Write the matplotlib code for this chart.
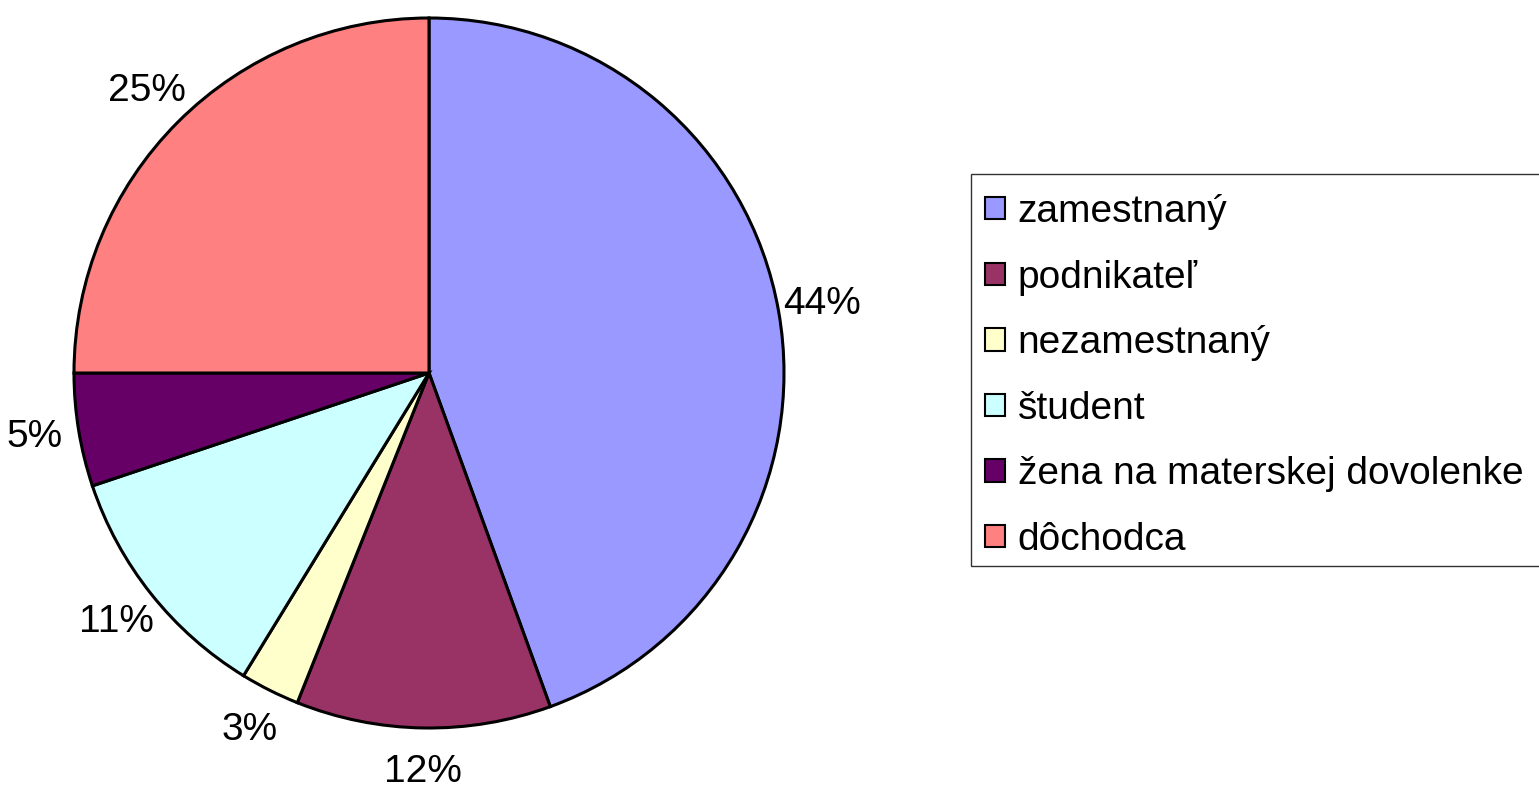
import matplotlib
matplotlib.use("Agg")
import matplotlib.pyplot as plt
from matplotlib.patches import Rectangle, Patch

categories = ["zamestnaný", "podnikateľ", "nezamestnaný", "študent",
              "žena na materskej dovolenke", "dôchodca"]
values = [44.45, 11.6, 2.7, 11.1, 5.15, 25.0]
colors = ["#9999FF", "#993366", "#FFFFCC", "#CCFFFF", "#660066", "#FF8080"]

W, H = 1539, 793
plt.rcParams['font.family'] = ['Liberation Sans', 'DejaVu Sans']
fig = plt.figure(figsize=(W / 100, H / 100), dpi=100)

cx, cy, r = 429, 373, 355
ax = fig.add_axes([(cx - r) / W, 1 - (cy + r) / H, 2 * r / W, 2 * r / H])

wedges, texts, autotexts = ax.pie(
    values, colors=colors, startangle=90, counterclock=False, radius=1,
    autopct='%.0f%%', pctdistance=1.125,
    wedgeprops=dict(edgecolor='black', linewidth=2.2),
    textprops=dict(fontsize=28, color='black'))
ax.set_xlim(-1, 1)
ax.set_ylim(-1, 1)
ax.set_aspect('equal')
ax.axis('off')
for t in ax.texts:
    t.set_clip_on(False)
for w in wedges:
    w.set_clip_on(False)

# legend
handles = [Patch(facecolor=c, edgecolor='black', linewidth=1.5) for c in colors]
leg = fig.legend(handles, categories, loc='upper left',
                 bbox_to_anchor=(985 / W, 1 - 194 / H),
                 frameon=False, fontsize=28, borderpad=0, borderaxespad=0,
                 handlelength=0.51, handleheight=0.51, handletextpad=0.33,
                 labelspacing=0.76)
fig.patches.append(Rectangle((971 / W, 1 - 566 / H), (1545 - 971) / W, (566 - 174) / H,
                             transform=fig.transFigure, fill=False,
                             edgecolor='#333333', linewidth=1.0))

fig.savefig("out.png", dpi=100)
